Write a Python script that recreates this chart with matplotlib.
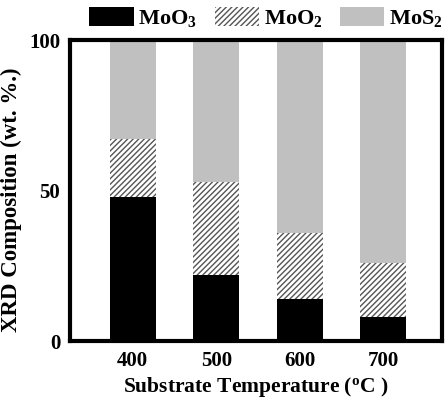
# XRD composition vs substrate temperature (stacked bars)

import numpy as np
import matplotlib.pyplot as plt

plt.rcParams['font.family'] = 'Liberation Serif'
plt.rcParams['font.weight'] = 'bold'
plt.rcParams['axes.labelweight'] = 'bold'
plt.rcParams['mathtext.fontset'] = 'custom'
plt.rcParams['mathtext.rm'] = 'Liberation Serif:bold'
plt.rcParams['mathtext.bf'] = 'Liberation Serif:bold'
plt.rcParams['mathtext.it'] = 'Liberation Serif:bold:italic'
plt.rcParams['hatch.linewidth'] = 1.0
plt.rcParams['hatch.color'] = '#555555'

temps = ['400', '500', '600', '700']
moo3 = np.array([48, 22, 14, 8])
moo2 = np.array([19, 31, 22, 18])
mos2 = np.array([33, 47, 64, 74])

x = np.arange(len(temps))
w = 0.55

fig = plt.figure(figsize=(4.46, 4.05), dpi=100)
ax = fig.add_axes([0.157, 0.158, 0.834, 0.743])

ax.bar(x, moo3, w, color='black', label='MoO$_3$')
ax.bar(x, moo2, w, bottom=moo3, color='white', edgecolor='#555555',
       hatch='//////', linewidth=0, label='MoO$_2$')
ax.bar(x, mos2, w, bottom=moo3 + moo2, color='#c0c0c0', label='MoS$_2$')

ax.set_xlim(-0.75, 3.7)
ax.set_ylim(0, 100)
ax.set_xticks(x)
ax.set_xticklabels(temps)
ax.set_yticks([0, 50, 100])
ax.tick_params(length=0, labelsize=15, pad=7)
for s in ax.spines.values():
    s.set_linewidth(3)

ax.set_xlabel('Substrate Temperature ($^{\\mathrm{o}}$C )', fontsize=15.5, labelpad=3)
ax.set_ylabel('XRD Composition (wt. %.)', fontsize=16.5)
ax.yaxis.set_label_coords(-0.13, 0.47)

fig.legend(loc='upper left', bbox_to_anchor=(0.185, 1.0), ncol=3, frameon=False,
           fontsize=16, handlelength=2.0, handleheight=0.95, handletextpad=0.2,
           columnspacing=0.8, borderpad=0.2, borderaxespad=0.1)

fig.savefig('out.png', dpi=100)
